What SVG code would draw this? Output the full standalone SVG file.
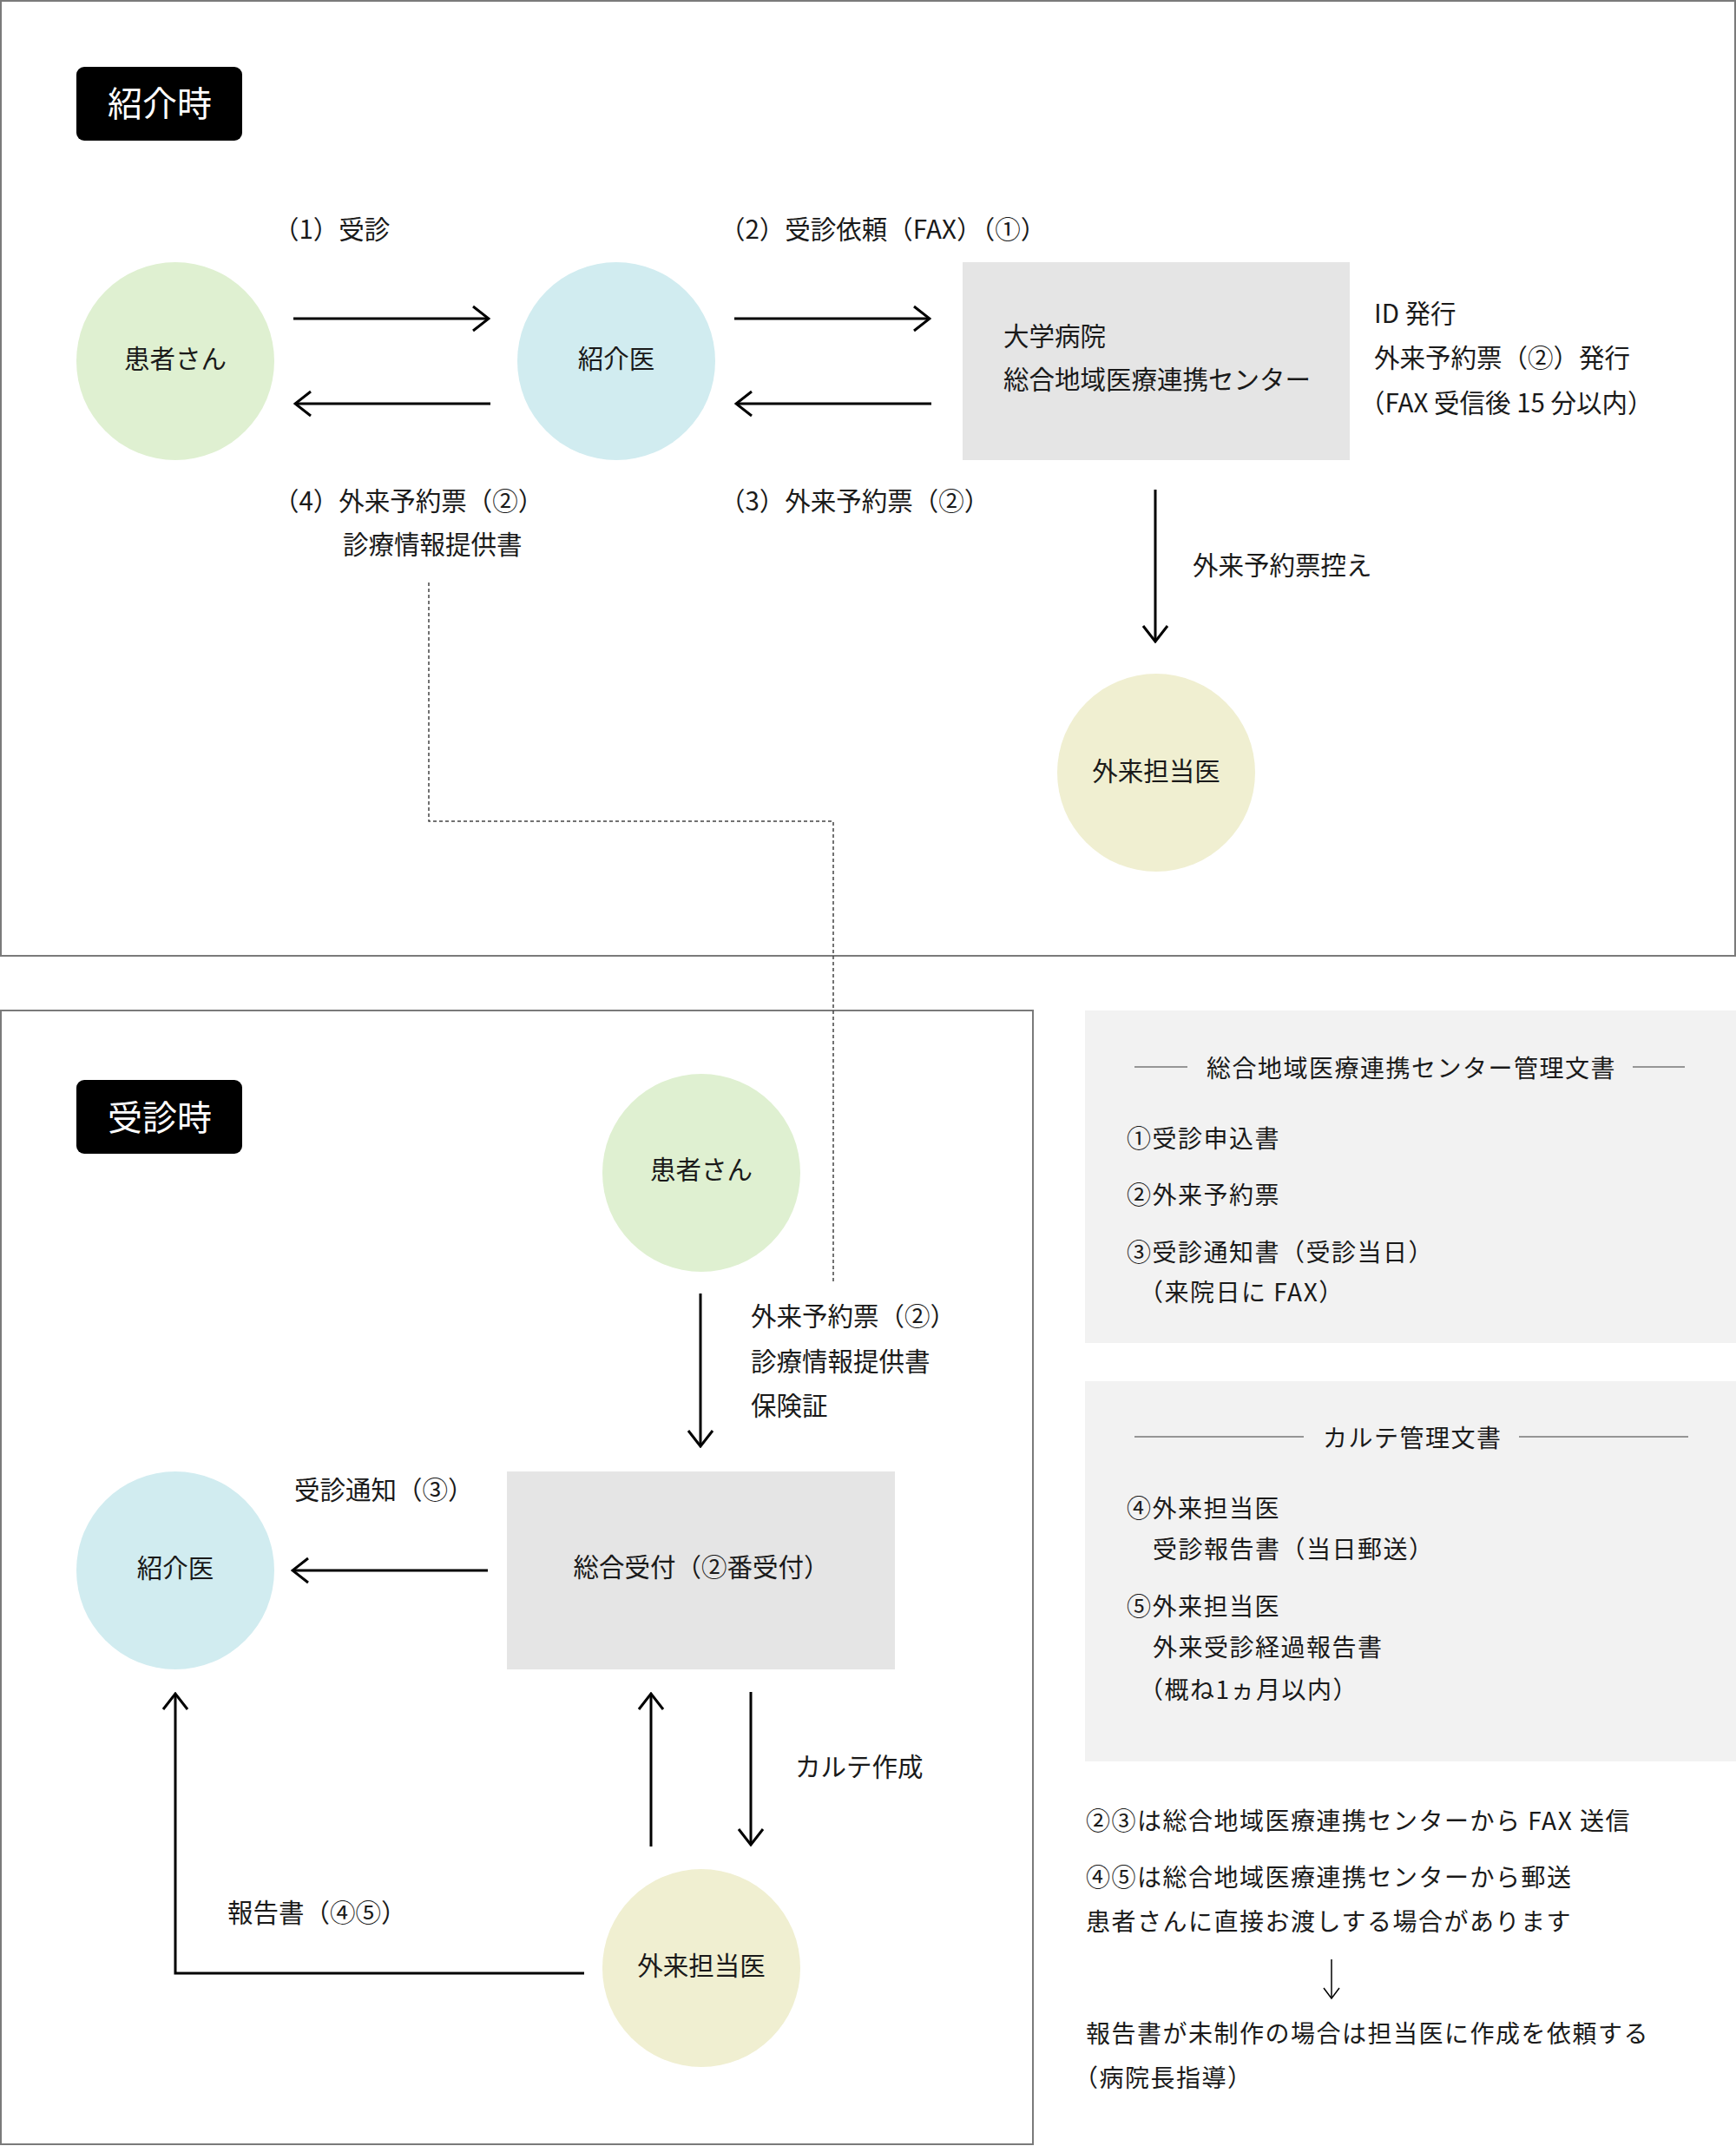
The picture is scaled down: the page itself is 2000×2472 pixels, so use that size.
<svg xmlns="http://www.w3.org/2000/svg" width="2000" height="2472" viewBox="0 0 2000 2472">
<defs>
<style>
text{font-family:"Noto Sans CJK JP","Noto Sans",sans-serif;fill:#1a1a1a;dominant-baseline:central}
.t{font-size:29.5px}
.p{font-size:28px;letter-spacing:1.5px}
.n{font-size:28px;letter-spacing:1.5px}
.lab{font-size:40px;fill:#fff}
.frame{fill:none;stroke:#7a7a7a;stroke-width:2}
.panel{fill:#f2f2f2}
.box{fill:#e5e5e5}
.c1{fill:#dff0d1}
.c2{fill:#d1ecf0}
.c3{fill:#f0efd1}
.ar{fill:none;stroke:#000;stroke-width:3}
.dot{fill:none;stroke:#444;stroke-width:1.5;stroke-dasharray:4 3}
.hl{stroke:#777;stroke-width:1.5}
</style>
<marker id="ah" viewBox="-22 -16 24 32" refX="0" refY="0" markerWidth="24" markerHeight="32" markerUnits="userSpaceOnUse" orient="auto">
<path d="M-18,-14 L0,0 L-18,14" fill="none" stroke="#000" stroke-width="3"/>
</marker>
<marker id="ahs" viewBox="-14 -12 16 24" refX="0" refY="0" markerWidth="16" markerHeight="24" markerUnits="userSpaceOnUse" orient="auto">
<path d="M-12,-9 L0,0 L-12,9" fill="none" stroke="#000" stroke-width="1.5"/>
</marker>
</defs>
<rect width="2000" height="2472" fill="#fff"/>

<g id="frames">
<rect class="frame" x="1" y="1" width="1998" height="1100"/>
<rect class="frame" x="1" y="1164" width="1189" height="1306"/>
</g>

<g id="connectors">
<line class="ar" x1="338" y1="367" x2="563" y2="367" marker-end="url(#ah)"/>
<line class="ar" x1="565" y1="465" x2="340" y2="465" marker-end="url(#ah)"/>
<line class="ar" x1="846" y1="367" x2="1071" y2="367" marker-end="url(#ah)"/>
<line class="ar" x1="1073" y1="465" x2="848" y2="465" marker-end="url(#ah)"/>
<line class="ar" x1="1331" y1="564" x2="1331" y2="739" marker-end="url(#ah)"/>
<polyline class="dot" points="494,671 494,946 960,946 960,1477"/>
<line class="ar" x1="807" y1="1490" x2="807" y2="1666" marker-end="url(#ah)"/>
<line class="ar" x1="562" y1="1809" x2="337" y2="1809" marker-end="url(#ah)"/>
<polyline class="ar" points="673,2273 202,2273 202,1951" marker-end="url(#ah)"/>
<line class="ar" x1="750" y1="2127" x2="750" y2="1951" marker-end="url(#ah)"/>
<line class="ar" x1="865" y1="1949" x2="865" y2="2125" marker-end="url(#ah)"/>
<line x1="1534" y1="2257" x2="1534" y2="2302" stroke="#000" stroke-width="1.5" marker-end="url(#ahs)"/>
</g>

<g id="label-shoukaiji">
<rect x="88" y="77" width="191" height="85" rx="9" fill="#000"/>
<text class="lab" x="184" y="117" text-anchor="middle">紹介時</text>
</g>
<g id="label-jushinji">
<rect x="88" y="1244" width="191" height="85" rx="9" fill="#000"/>
<text class="lab" x="184" y="1285" text-anchor="middle">受診時</text>
</g>

<g id="n-patient-top">
<circle class="c1" cx="202" cy="416" r="114"/>
<text class="t" x="202" y="411" text-anchor="middle">患者さん</text>
</g>
<g id="n-referrer-top">
<circle class="c2" cx="710" cy="416" r="114"/>
<text class="t" x="710" y="411" text-anchor="middle">紹介医</text>
</g>
<g id="n-center">
<rect class="box" x="1109" y="302" width="446" height="228"/>
<text class="t" x="1156" y="385">大学病院</text>
<text class="t" x="1156" y="435">総合地域医療連携センター</text>
</g>
<g id="n-doctor-top">
<circle class="c3" cx="1332" cy="890" r="114"/>
<text class="t" x="1332" y="886" text-anchor="middle">外来担当医</text>
</g>

<g id="top-labels">
<text class="t" x="315" y="262">（1）受診</text>
<text class="t" x="829" y="262">（2）受診依頼（FAX）（①）</text>
<text class="t" x="315" y="575">（4）外来予約票（②）</text>
<text class="t" x="395" y="625">診療情報提供書</text>
<text class="t" x="829" y="575">（3）外来予約票（②）</text>
<text class="t" x="1583" y="359">ID 発行</text>
<text class="t" x="1583" y="410">外来予約票（②）発行</text>
<text class="t" x="1566" y="462">（FAX 受信後 15 分以内）</text>
<text class="t" x="1374" y="649">外来予約票控え</text>
</g>

<g id="n-patient-bottom">
<circle class="c1" cx="808" cy="1351" r="114"/>
<text class="t" x="808" y="1345" text-anchor="middle">患者さん</text>
</g>
<g id="n-reception">
<rect class="box" x="584" y="1695" width="447" height="228"/>
<text class="t" x="808" y="1803" text-anchor="middle">総合受付（②番受付）</text>
</g>
<g id="n-referrer-bottom">
<circle class="c2" cx="202" cy="1809" r="114"/>
<text class="t" x="202" y="1804" text-anchor="middle">紹介医</text>
</g>
<g id="n-doctor-bottom">
<circle class="c3" cx="808" cy="2267" r="114"/>
<text class="t" x="808" y="2262" text-anchor="middle">外来担当医</text>
</g>

<g id="bottom-labels">
<text class="t" x="865" y="1514">外来予約票（②）</text>
<text class="t" x="865" y="1566">診療情報提供書</text>
<text class="t" x="865" y="1617">保険証</text>
<text class="t" x="339" y="1714">受診通知（③）</text>
<text class="t" x="916" y="2033">カルテ作成</text>
<text class="t" x="262" y="2201">報告書（④⑤）</text>
</g>

<g id="panel-center-docs">
<rect class="panel" x="1250" y="1164" width="750" height="383"/>
<line class="hl" x1="1307" y1="1229" x2="1368" y2="1229"/>
<line class="hl" x1="1881" y1="1229" x2="1941" y2="1229"/>
<text class="p" x="1390" y="1229">総合地域医療連携センター管理文書</text>
<text class="p" x="1298" y="1310">①受診申込書</text>
<text class="p" x="1298" y="1375">②外来予約票</text>
<text class="p" x="1298" y="1441">③受診通知書（受診当日）</text>
<text class="p" x="1312" y="1487">（来院日に FAX）</text>
</g>

<g id="panel-karte-docs">
<rect class="panel" x="1250" y="1591" width="750" height="438"/>
<line class="hl" x1="1307" y1="1655" x2="1502" y2="1655"/>
<line class="hl" x1="1750" y1="1655" x2="1945" y2="1655"/>
<text class="p" x="1524" y="1655">カルテ管理文書</text>
<text class="p" x="1298" y="1736">④外来担当医</text>
<text class="p" x="1328" y="1783">受診報告書（当日郵送）</text>
<text class="p" x="1298" y="1849">⑤外来担当医</text>
<text class="p" x="1328" y="1896">外来受診経過報告書</text>
<text class="p" x="1312" y="1945">（概ね1ヵ月以内）</text>
</g>

<g id="notes">
<text class="n" x="1251" y="2096">②③は総合地域医療連携センターから FAX 送信</text>
<text class="n" x="1251" y="2161">④⑤は総合地域医療連携センターから郵送</text>
<text class="n" x="1251" y="2212">患者さんに直接お渡しする場合があります</text>
<text class="n" x="1251" y="2341">報告書が未制作の場合は担当医に作成を依頼する</text>
<text class="n" x="1237" y="2392">（病院長指導）</text>
</g>
</svg>
